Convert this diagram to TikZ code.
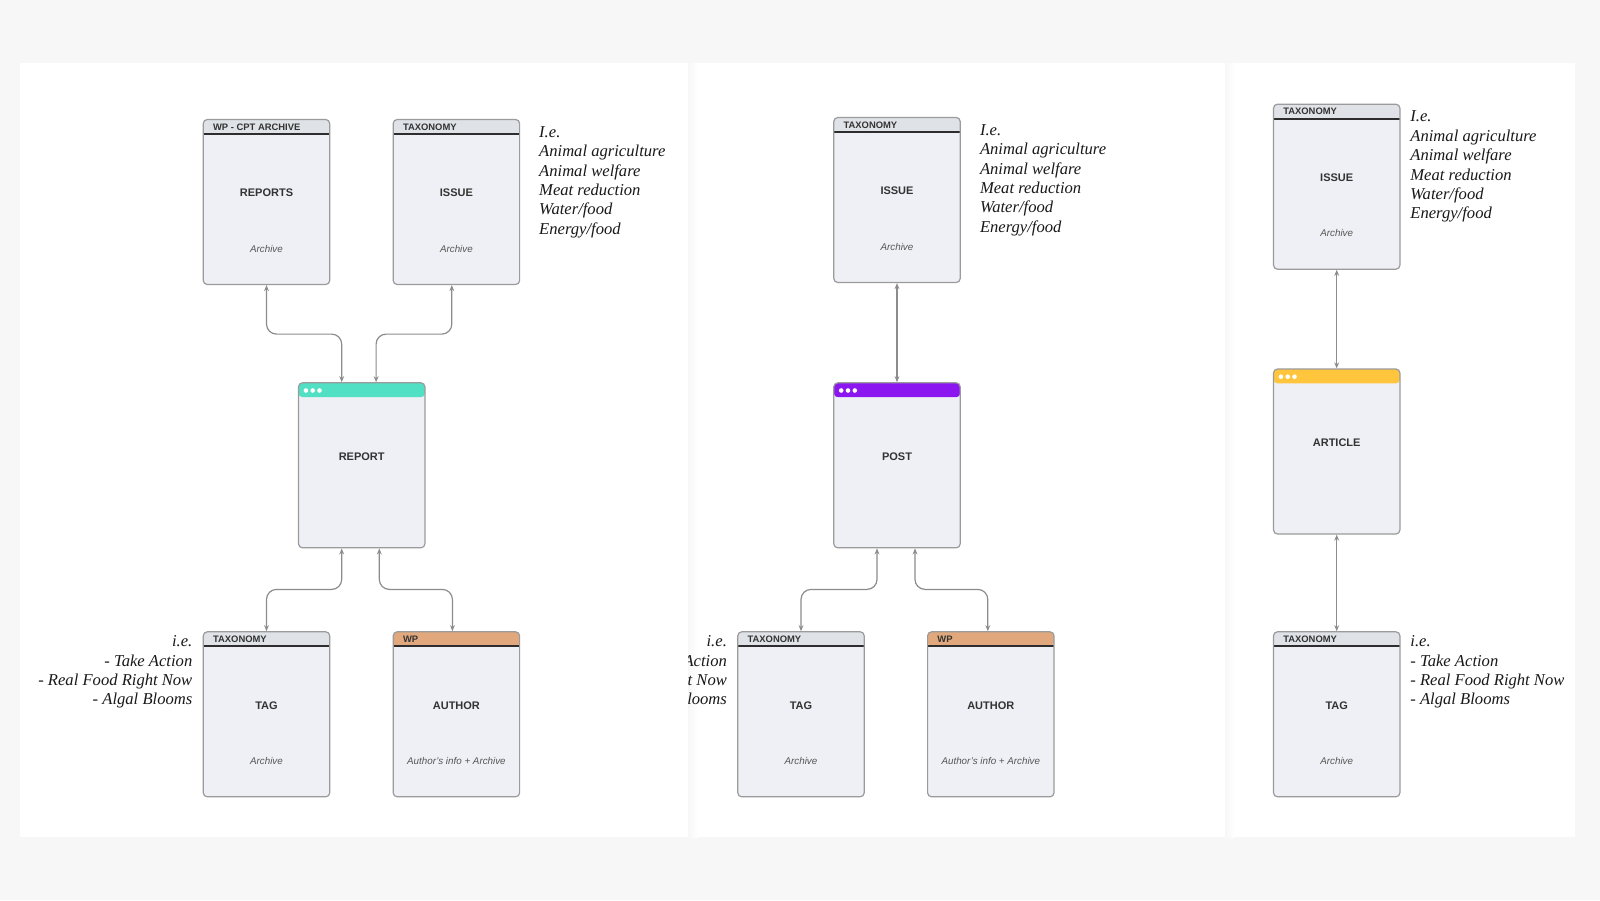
\documentclass[tikz,border=0pt]{standalone}
\usepackage{fontspec}
\setmainfont{Liberation Serif}
\setsansfont{Liberation Sans}
\usepackage{tikz}
\usepackage{xcolor}
\usetikzlibrary{arrows.meta}

\definecolor{pagebg}{RGB}{247,247,247}
\definecolor{boxfill}{RGB}{238,240,245}
\definecolor{boxline}{RGB}{155,155,155}
\definecolor{headgray}{RGB}{223,226,230}
\definecolor{headline}{RGB}{45,45,45}
\definecolor{inkgray}{RGB}{51,51,51}
\definecolor{subgray}{RGB}{85,85,85}
\definecolor{linkgray}{RGB}{140,140,140}
\definecolor{cptteal}{RGB}{82,224,196}
\definecolor{postpurple}{RGB}{139,22,240}
\definecolor{articleamber}{RGB}{255,197,61}
\definecolor{wptan}{RGB}{224,168,124}

\tikzstyle{entity} = [rectangle, rounded corners=2pt, minimum width=63.2pt, minimum height=82.5pt, inner sep=0pt, draw=boxline, line width=0.6pt, fill=boxfill, text=inkgray, font=\sffamily\bfseries\fontsize{5.5}{6}\selectfont, text height=4pt, text depth=9.1pt]
\tikzstyle{boxhead} = [font=\sffamily\bfseries\fontsize{4.7}{5}\selectfont, text=inkgray, anchor=west, inner sep=0pt, xshift=5pt, yshift=-4pt]
\tikzstyle{boxsub} = [font=\sffamily\itshape\fontsize{4.9}{5.5}\selectfont, text=subgray, anchor=center, inner sep=0pt, yshift=18.3pt]
\tikzstyle{note} = [font=\itshape\fontsize{8.3}{9.7}\selectfont, text=black!90, inner sep=0pt]
\tikzstyle{link} = [<->, >={Stealth[length=3pt,width=2.4pt]}, draw=linkgray, line width=0.6pt, rounded corners=5pt]

\tikzset{
  taxhead/.style={path picture={
    \fill[#1] (path picture bounding box.north west) rectangle ([yshift=-7.3pt]path picture bounding box.north east);
    \draw[headline, line width=1pt] ([yshift=-7.3pt]path picture bounding box.north west) -- ([yshift=-7.3pt]path picture bounding box.north east);}},
  taxhead/.default=headgray,
  dothead/.style={path picture={
    \fill[#1] (path picture bounding box.north west) rectangle ([yshift=-7.2pt]path picture bounding box.north east);
    \foreach \k in {0,1,2}
      \fill[white] ([xshift=3.7pt+\k*3.4pt, yshift=-3.85pt]path picture bounding box.north west) circle (1.15pt);}}
}

\begin{document}
\begin{tikzpicture}[x=0.5pt, y=-0.5pt]
    \fill[pagebg] (0,0) rectangle (1600,900);
    \fill[white] (1225,63) rectangle (1575,837);
    \fill[white] (688,63) rectangle (1225,837);
    \shade[left color=black!3, right color=white] (1225,63) rectangle (1235,837);
    \fill[white] (20.4,63) rectangle (688,837);
    \shade[left color=black!3, right color=white] (688,63) rectangle (698,837);

    % reports
    \node (reports) [entity, taxhead, label={[boxhead]north west:WP - CPT ARCHIVE}, label={[boxsub]south:Archive}] at (266.5,202) {REPORTS};
    \node (issue1) [entity, taxhead, label={[boxhead]north west:TAXONOMY}, label={[boxsub]south:Archive}] at (456.4,202) {ISSUE};
    \node (report) [entity, dothead=cptteal] at (361.7,465.3) {REPORT};
    \node (tag1) [entity, taxhead, label={[boxhead]north west:TAXONOMY}, label={[boxsub]south:Archive}] at (266.5,714.3) {TAG};
    \node (author1) [entity, taxhead=wptan, label={[boxhead]north west:WP}, label={[boxsub]south:Author's info + Archive}] at (456.4,714.3) {AUTHOR};
    \node (topics1) [note, anchor=north west, align=left] at (538.8,126) {I.e.\\Animal agriculture\\Animal welfare\\Meat reduction\\Water/food\\Energy/food};
    \node (tags1) [note, anchor=north east, align=right] at (192.7,635.2) {i.e.\\- Take Action\\- Real Food Right Now\\- Algal Blooms};
    \draw [link] (reports.south) -- ++(0,49) -| ([xshift=-10pt]report.north);
    \draw [link] ([xshift=-2.3pt]issue1.south) -- ++(0,49) -| ([xshift=7.2pt]report.north);
    \draw [link] ([xshift=-10pt]report.south) -- ++(0,41) -| (tag1.north);
    \draw [link] ([xshift=8.8pt]report.south) -- ++(0,41) -| ([xshift=-2pt]author1.north);

    % posts
    \node (issue2) [entity, taxhead, label={[boxhead]north west:TAXONOMY}, label={[boxsub]south:Archive}] at (897,200) {ISSUE};
    \node (post) [entity, dothead=postpurple] at (897,465.3) {POST};
    \node (tag2) [entity, taxhead, label={[boxhead]north west:TAXONOMY}, label={[boxsub]south:Archive}] at (801,714.3) {TAG};
    \node (author2) [entity, taxhead=wptan, label={[boxhead]north west:WP}, label={[boxsub]south:Author's info + Archive}] at (990.8,714.3) {AUTHOR};
    \node (topics2) [note, anchor=north west, align=left] at (979.6,124) {I.e.\\Animal agriculture\\Animal welfare\\Meat reduction\\Water/food\\Energy/food};
    \begin{scope}
      \clip (688,63) rectangle (1225,837);
      \node (tags2) [note, anchor=north east, align=right] at (727.3,635.2) {i.e.\\- Take Action\\- Real Food Right Now\\- Algal Blooms};
    \end{scope}
    \draw [link] (issue2.south) -- (post.north);
    \draw [link] ([xshift=-10pt]post.south) -- ++(0,41) -| (tag2.north);
    \draw [link] ([xshift=9pt]post.south) -- ++(0,41) -| ([xshift=-1.5pt]author2.north);

    % articles
    \node (issue3) [entity, taxhead, label={[boxhead]north west:TAXONOMY}, label={[boxsub]south:Archive}] at (1336.7,186.7) {ISSUE};
    \node (article) [entity, dothead=articleamber] at (1336.7,451.5) {ARTICLE};
    \node (tag3) [entity, taxhead, label={[boxhead]north west:TAXONOMY}, label={[boxsub]south:Archive}] at (1336.7,714.3) {TAG};
    \node (topics3) [note, anchor=north west, align=left] at (1410,110.7) {I.e.\\Animal agriculture\\Animal welfare\\Meat reduction\\Water/food\\Energy/food};
    \node (tags3) [note, anchor=north west, align=left] at (1410,635.2) {i.e.\\- Take Action\\- Real Food Right Now\\- Algal Blooms};
    \draw [link] (issue3.south) -- (article.north);
    \draw [link] (article.south) -- (tag3.north);
\end{tikzpicture}
\end{document}
